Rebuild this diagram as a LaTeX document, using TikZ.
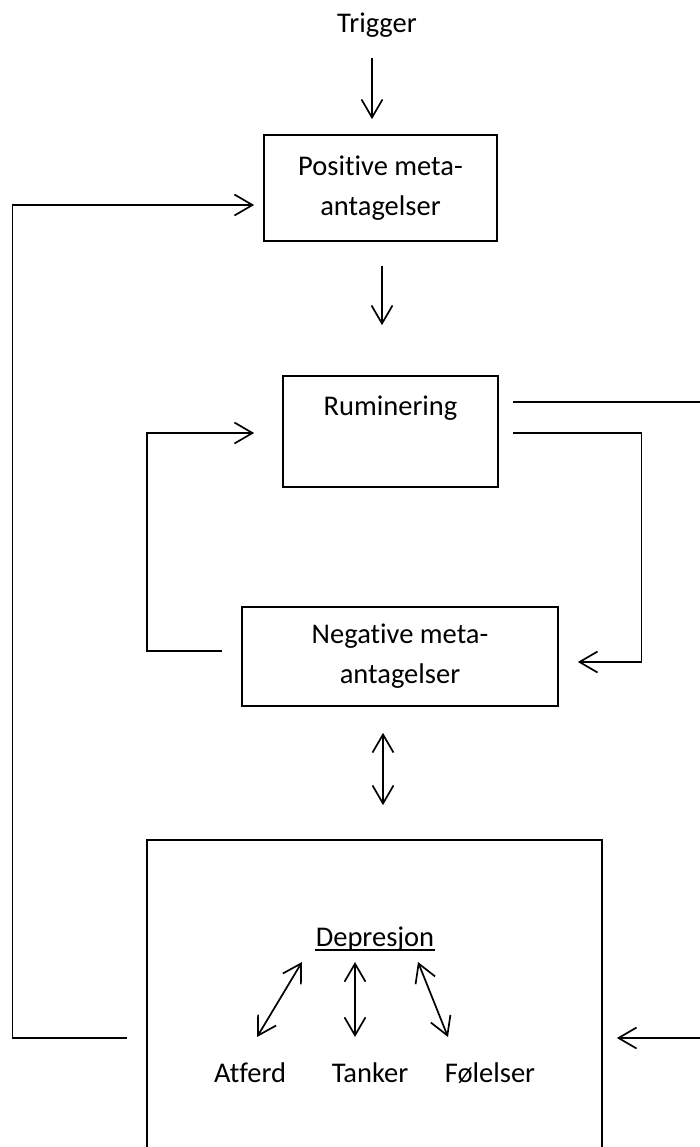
\documentclass[tikz,border=0pt]{standalone}
\usepackage{fontspec}
\setmainfont[Ligatures=NoCommon]{Carlito}
\usetikzlibrary{arrows.meta}
\tikzset{
  box/.style={draw, align=center, inner sep=0pt},
  lbl/.style={inner sep=0pt, anchor=base},
}
\begin{document}
\begin{tikzpicture}[x=0.5pt, y=0.5pt, line width=0.85pt, >={Straight Barb[length=9pt,width=10.5pt]}, font=\fontsize{14.25}{20}\selectfont]
\useasboundingbox (0,0) rectangle (700,-1147);
\node[lbl] (trig) at (377,-32) {Trigger};
\node[box, minimum width=116.5pt, minimum height=53pt] (pos) at (380.5,-188) {Positive meta-\\antagelser};
\node[box, text width=107.5pt, text height=19.5pt, text depth=36pt] (rum) at (390.5,-431.5) {Ruminering};
\node[box, minimum width=158pt, minimum height=49.5pt] (neg) at (400,-656.5) {Negative meta-\\antagelser};
\node[box, minimum width=227.5pt, minimum height=165pt] (dep) at (374.5,-1005) {};
\node[lbl] (deptxt) at (375,-946) {Depresjon};
\node[lbl] (atf) at (250,-1082) {Atferd};
\node[lbl] (tan) at (370,-1082) {Tanker};
\node[lbl] (fol) at (490,-1082) {Følelser};
\coordinate (c1) at (12.5,-1038);
\coordinate (c2) at (12.5,-205);
\coordinate (c3) at (641.5,-433);
\coordinate (c4) at (641.5,-662);
\coordinate (c5) at (147,-651);
\coordinate (c6) at (147,-433);
\coordinate (c7) at (702,-402);
\coordinate (c8) at (702,-1038);
\draw[line width=0.75pt] ([yshift=-2pt]deptxt.base west) -- ([yshift=-2pt]deptxt.base east);
\draw[->] ([shift={(-5,-26)}]trig.base) -- ([shift={(-8.5,15)}]pos.north);
\draw[->] ([shift={(1.5,-24)}]pos.south) -- ([shift={(-8.5,50)}]rum.north);
\draw[<->] ([shift={(-17,-26)}]neg.south) -- ([shift={(8.5,34)}]dep.north);
\draw[->, shorten <=9.5pt, shorten >=4.5pt] (dep.west |- c1) -- (c1) -- (c2) -- (pos.west |- c2);
\draw[->, shorten <=7pt, shorten >=9.5pt] (rum.east |- c3) -- (c3) -- (c4) -- (neg.east |- c4);
\draw[->, shorten <=9.5pt, shorten >=14pt] (neg.west |- c5) -- (c5) -- (c6) -- (rum.west |- c6);
\draw[shorten <=7pt] (rum.east |- c7) -- (c7);
\draw[->, shorten >=7pt] (c8) -- (dep.east |- c8);
\draw[<->] ([shift={(7,45)}]atf.base) -- ([shift={(-73,-16)}]deptxt.base);
\draw[<->] ([shift={(-15,45)}]tan.base) -- ([shift={(-20,-16)}]deptxt.base);
\draw[<->] ([shift={(-42,45)}]fol.base) -- ([shift={(43,-16)}]deptxt.base);
\end{tikzpicture}
\end{document}
